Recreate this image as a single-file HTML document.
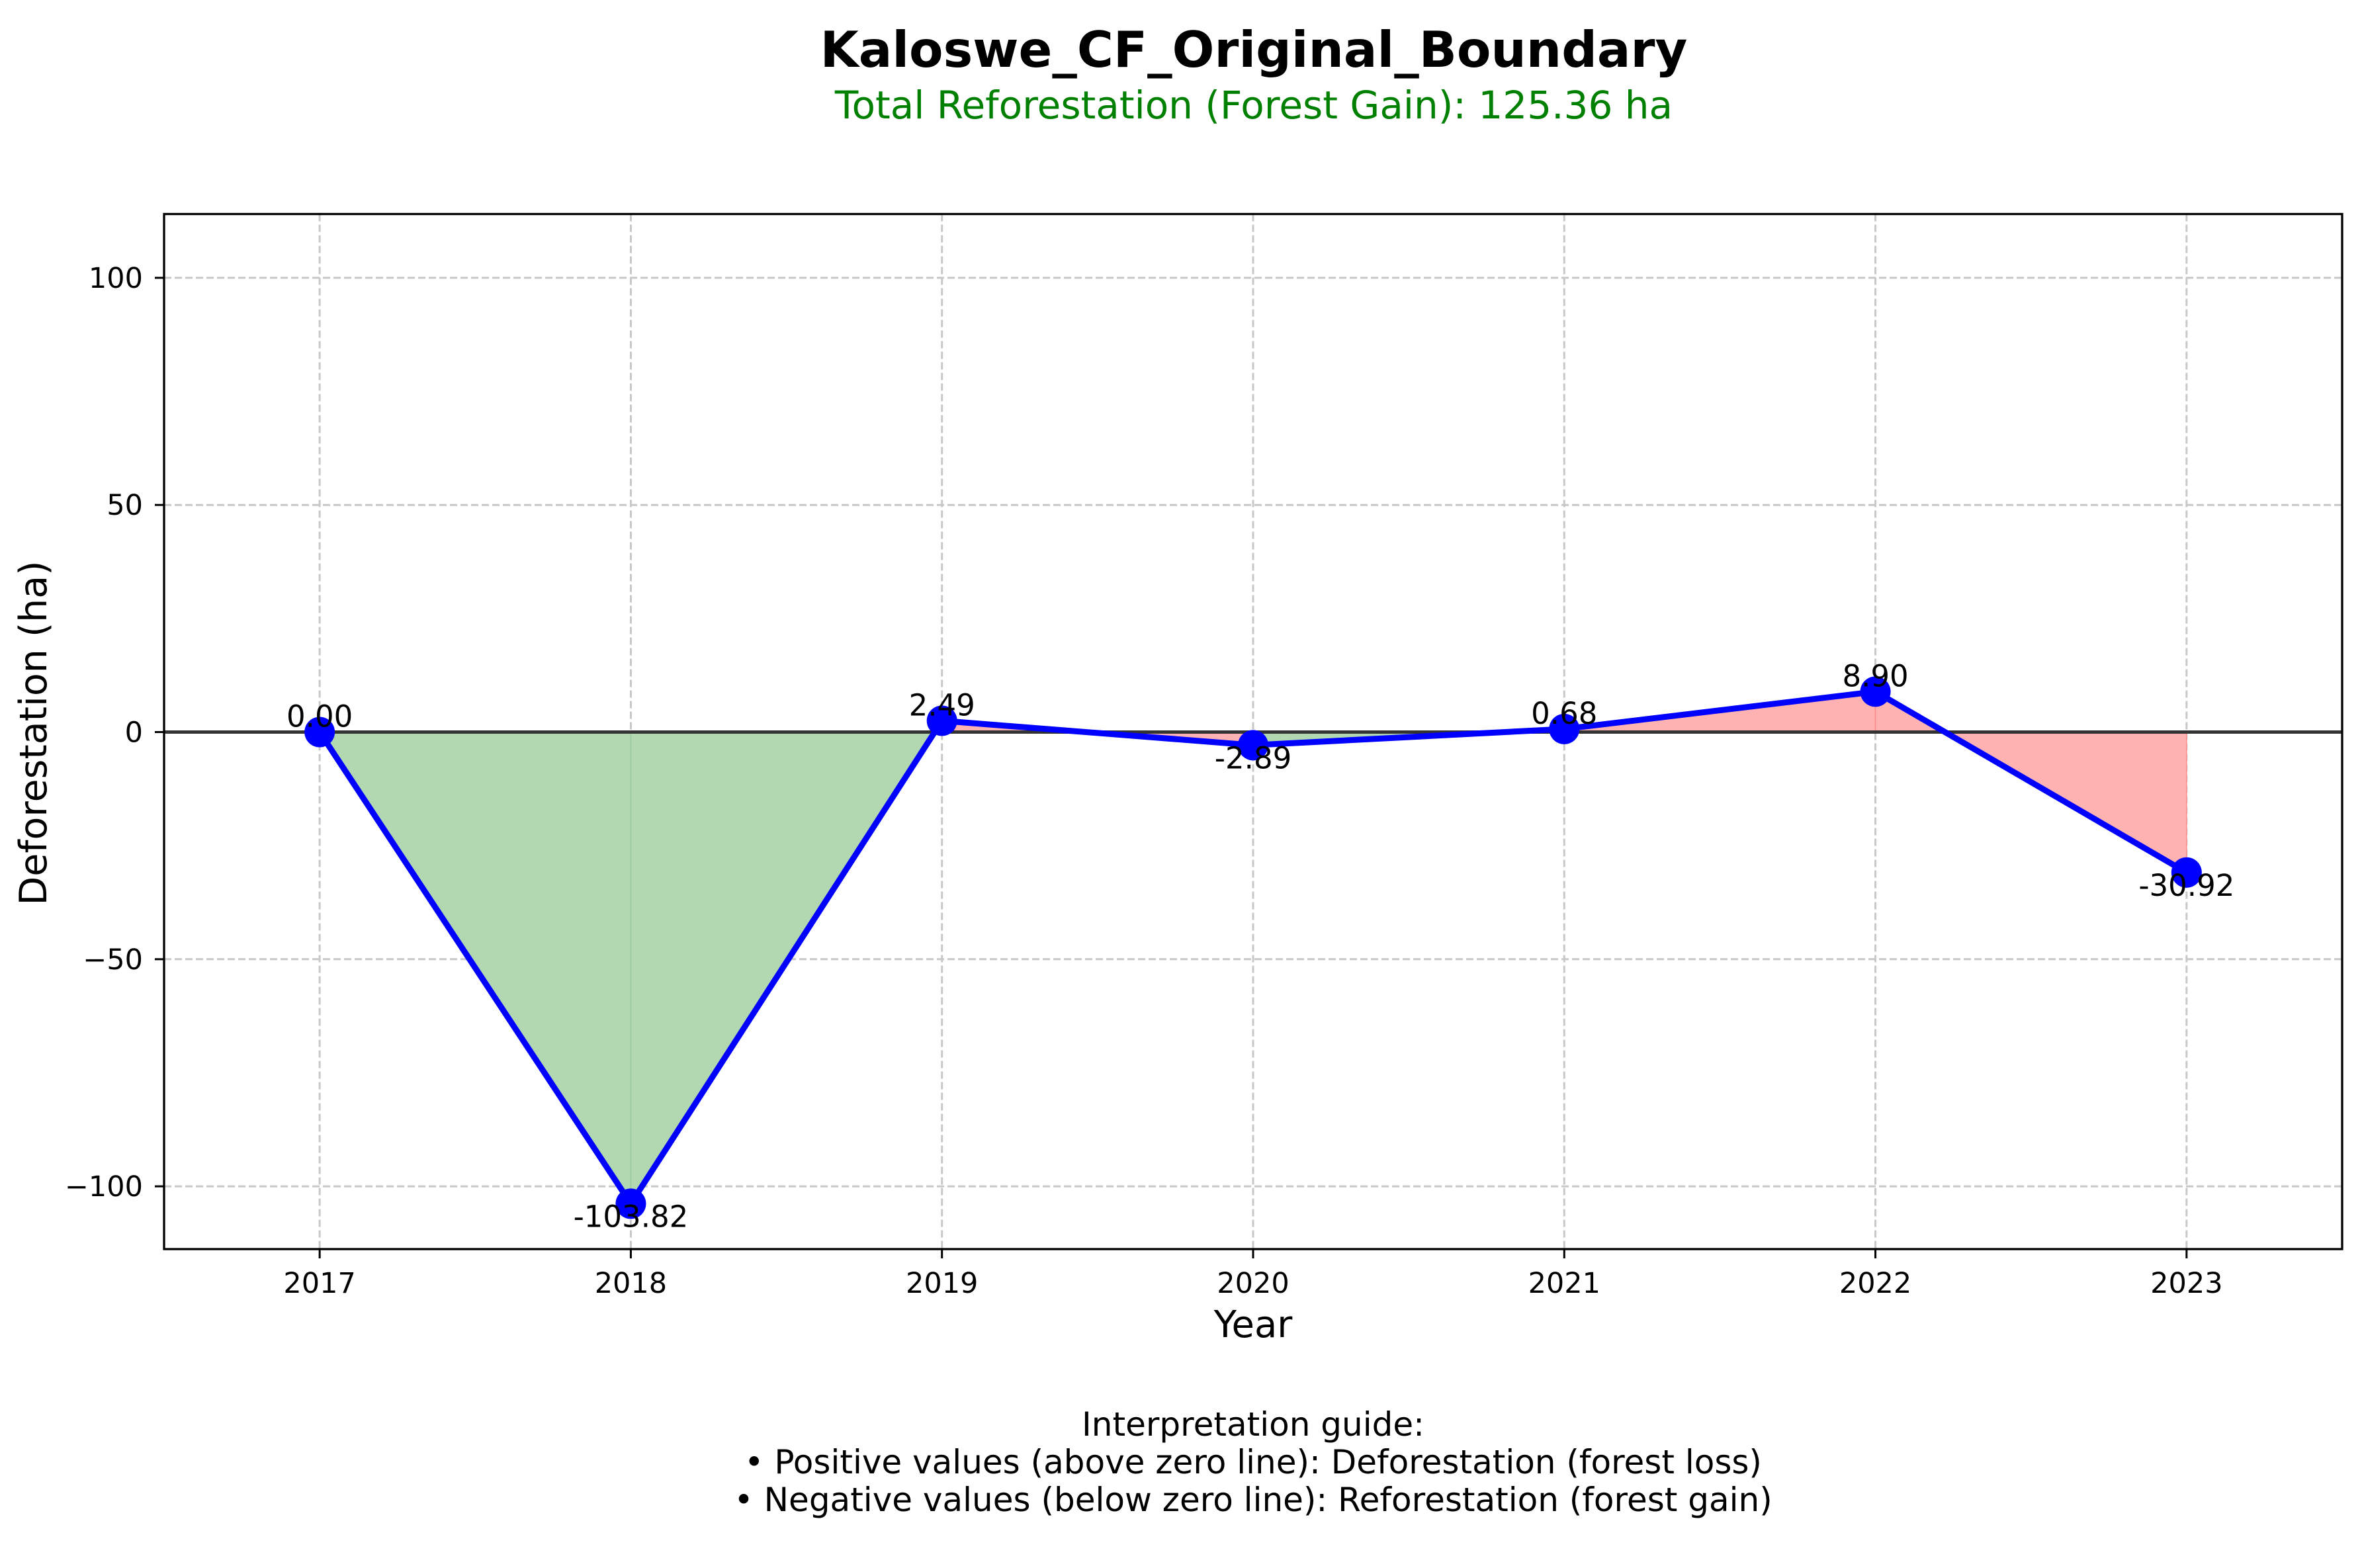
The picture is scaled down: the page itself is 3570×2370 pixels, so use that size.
<!DOCTYPE html>
<html><head><meta charset="utf-8"><style>
html,body{margin:0;padding:0;background:#fff}
svg{display:block;font-family:"DejaVu Sans","Liberation Sans",sans-serif}
</style></head><body>
<svg id="chart" width="3570" height="2370" viewBox="0 0 3570 2370" xmlns="http://www.w3.org/2000/svg">
<rect x="0" y="0" width="3570" height="2370" fill="#fff"/>
<text x="1895" y="101" text-anchor="middle" font-size="75" font-weight="bold">Kaloswe_CF_Original_Boundary</text>
<text x="1895" y="179" text-anchor="middle" font-size="58" fill="#008000">Total Reforestation (Forest Gain): 125.36 ha</text>
<g id="grid"></g>
<g id="fills"></g>
<g id="zero"></g>
<g id="series"></g>
<g id="labels"></g>
<rect x="248" y="323.5" width="3292" height="1564.5" fill="none" stroke="#000" stroke-width="3.3"/>
<g id="axes"></g>
<text x="1894" y="2021" text-anchor="middle" font-size="56">Year</text>
<text transform="translate(70,1108) rotate(-90)" text-anchor="middle" font-size="57">Deforestation (ha)</text>
<g font-size="50" text-anchor="middle">
<text x="1894" y="2170">Interpretation guide:</text>
<text x="1894" y="2227">• Positive values (above zero line): Deforestation (forest loss)</text>
<text x="1894" y="2284">• Negative values (below zero line): Reforestation (forest gain)</text>
</g>
</svg>
<script>
const years = [2017, 2018, 2019, 2020, 2021, 2022, 2023];
const values = [0.00, -103.82, 2.49, -2.89, 0.68, 8.90, -30.92];
const yTicks = [-100, -50, 0, 50, 100];
const valueLabels = ["0.00", "-103.82", "2.49", "-2.89", "0.68", "8.90", "-30.92"];

const NS = "http://www.w3.org/2000/svg";
const L = 248, R = 3540, T = 323.5, B = 1888;
const xMin = 2016.5, xMax = 2023.5;
const xs = v => L + (v - xMin) / (xMax - xMin) * (R - L);
const ys = v => 1106.5 - v * 6.866;
function mk(tag, attrs, parent) {
  const e = document.createElementNS(NS, tag);
  for (const k in attrs) e.setAttribute(k, attrs[k]);
  parent.appendChild(e);
  return e;
}
const grid = document.getElementById('grid');
const axes = document.getElementById('axes');
years.forEach(y => {
  const l = mk('line', {x1: xs(y), x2: xs(y), y1: T, y2: B, stroke: '#c8c8c8', 'stroke-width': 3, 'stroke-dasharray': '11,5'}, grid);
  
  
  const t = mk('line', {x1: xs(y), x2: xs(y), y1: B, y2: B + 14, stroke: '#000', 'stroke-width': 3}, axes);
  
  
  const tx = mk('text', {x: xs(y), y: 1954, 'text-anchor': 'middle', 'font-size': 43}, axes);
  tx.textContent = y;
  
  
});
yTicks.forEach(v => {
  const l = mk('line', {x1: L, x2: R, y1: ys(v), y2: ys(v), stroke: '#c8c8c8', 'stroke-width': 3, 'stroke-dasharray': '11,5'}, grid);
  
  
  const t = mk('line', {x1: L - 14, x2: L, y1: ys(v), y2: ys(v), stroke: '#000', 'stroke-width': 3}, axes);
  
  
  const tx = mk('text', {x: 216, y: ys(v) + 15, 'text-anchor': 'end', 'font-size': 43}, axes);
  tx.textContent = v < 0 ? '\u2212' + Math.abs(v) : String(v);
  
  
});
const fills = document.getElementById('fills');
for (let i = 0; i < years.length - 1; i++) {
  const red = values[i] > 0;
  const x0 = xs(years[i]), x1 = xs(years[i + 1]);
  const p = mk('polygon', {points: `${x0},${ys(0)} ${x0},${ys(values[i])} ${x1},${ys(values[i + 1])} ${x1},${ys(0)}`,
    fill: red ? '#ffb2b2' : '#b2d8b2', stroke: red ? '#ff8c8c' : '#9cc99c', 'stroke-width': 1.5}, fills);
  
  
}
const z = mk('line', {x1: L, x2: R, y1: ys(0), y2: ys(0), stroke: '#333', 'stroke-width': 5}, document.getElementById('zero'));


const series = document.getElementById('series');
const line = mk('polyline', {points: years.map((y, i) => `${xs(y)},${ys(values[i])}`).join(' '), fill: 'none', stroke: '#0000ff', 'stroke-width': 9, 'stroke-linejoin': 'round'}, series);


const labels = document.getElementById('labels');
years.forEach((y, i) => {
  const c = mk('circle', {cx: xs(y), cy: ys(values[i]), r: 23, fill: '#0000ff'}, series);
  
  
  const above = values[i] >= 0;
  const t = mk('text', {x: xs(y), y: ys(values[i]) + (above ? -8 : 35), 'text-anchor': 'middle', 'font-size': 45}, labels);
  t.textContent = valueLabels[i];
  
  
});
</script>
</body></html>
